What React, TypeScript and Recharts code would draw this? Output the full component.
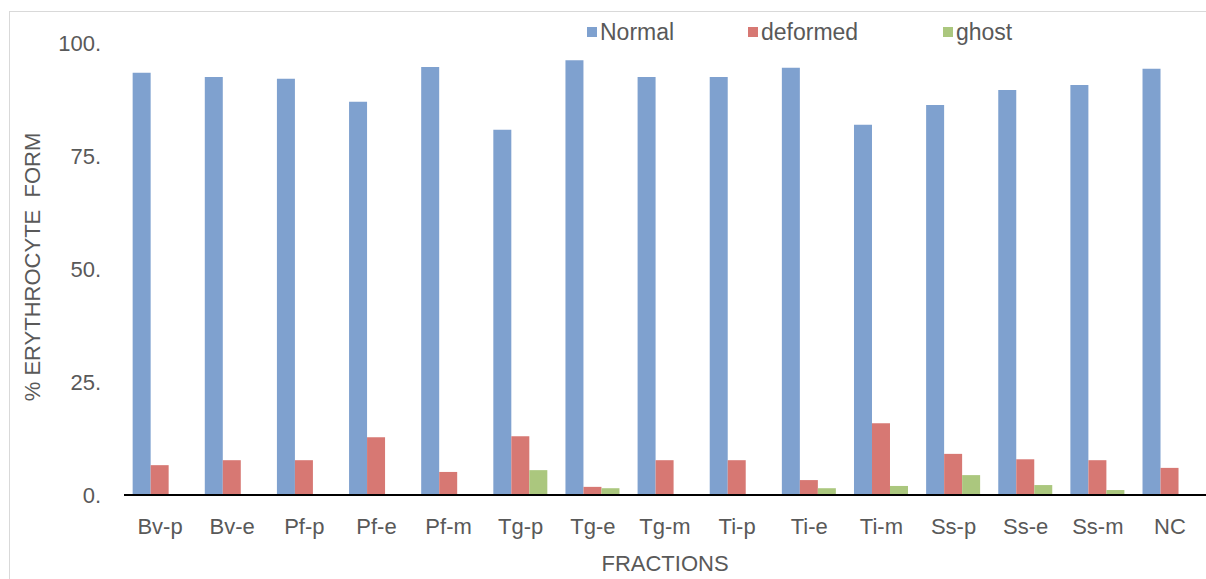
import React from 'react';
import { BarChart, Bar, XAxis, YAxis, Legend, Label } from 'recharts';

const fractions = ['Bv-p', 'Bv-e', 'Pf-p', 'Pf-e', 'Pf-m', 'Tg-p', 'Tg-e', 'Tg-m', 'Ti-p', 'Ti-e', 'Ti-m', 'Ss-p', 'Ss-e', 'Ss-m', 'NC'];
const normal = [93.4, 92.5, 92.1, 87.0, 94.7, 80.8, 96.2, 92.5, 92.5, 94.5, 81.9, 86.3, 89.6, 90.7, 94.3];
const deformed = [6.6, 7.7, 7.7, 12.8, 5.1, 13.0, 1.8, 7.7, 7.7, 3.3, 15.9, 9.1, 7.9, 7.7, 6.0];
const ghost = [0, 0, 0, 0, 0, 5.5, 1.5, 0, 0, 1.5, 2.0, 4.4, 2.2, 1.1, 0];
const yTicks = [0, 25, 50, 75, 100];

const data = fractions.map((name, i) => ({
  name,
  Normal: normal[i],
  deformed: deformed[i],
  ghost: ghost[i],
}));

const FONT = '"Liberation Sans", Arial, sans-serif';
const GREY = '#595959';

const legendItems = [
  { label: 'Normal', color: '#7FA1CF', x: 587 },
  { label: 'deformed', color: '#D77873', x: 748 },
  { label: 'ghost', color: '#ABC77E', x: 943 },
];

const TopLegend = () => (
  <div style={{ position: 'relative', height: 0 }}>
    {legendItems.map((it) => (
      <div
        key={it.label}
        style={{
          position: 'absolute',
          left: it.x,
          top: 18,
          display: 'flex',
          alignItems: 'center',
          fontFamily: FONT,
          fontSize: 23,
          lineHeight: '28px',
          color: GREY,
          whiteSpace: 'nowrap',
        }}
      >
        <span style={{ width: 10, height: 10, background: it.color, marginRight: 3 }} />
        {it.label}
      </div>
    ))}
  </div>
);

export default function App() {
  return (
    <div style={{ position: 'absolute', left: 0, top: 0, width: 1206, height: 579, overflow: 'hidden', background: '#fff' }}>
      <div
        style={{
          position: 'absolute',
          left: 9,
          top: 11,
          width: 1206,
          height: 600,
          border: '1px solid #d9d9d9',
        }}
      />
      <BarChart
        width={1206}
        height={579}
        data={data}
        margin={{ top: 43, right: 0, left: 0, bottom: 0 }}
        barCategoryGap="12%"
        barGap={0}
      >
        <XAxis
          dataKey="name"
          height={84}
          interval={0}
          tickLine={false}
          axisLine={{ stroke: '#000', strokeWidth: 2 }}
          tickMargin={17}
          tick={{ fill: GREY, fontSize: 22, fontFamily: FONT }}
        >
          <Label value="FRACTIONS" position="insideBottom" offset={8} fill={GREY} fontSize={22} fontFamily={FONT} />
        </XAxis>
        <YAxis
          width={124}
          domain={[0, 100]}
          ticks={yTicks}
          tickFormatter={(v) => `${v}.`}
          axisLine={false}
          tickLine={false}
          tickMargin={17}
          tick={{ fill: GREY, fontSize: 22, fontFamily: FONT }}
        >
          <Label
            content={() => (
              <text
                x={32}
                y={267}
                transform="rotate(-90, 32, 267)"
                textAnchor="middle"
                dominantBaseline="central"
                fill={GREY}
                fontSize={22}
                fontFamily={FONT}
                style={{ whiteSpace: 'pre' }}
              >
                % ERYTHROCYTE  FORM
              </text>
            )}
          />
        </YAxis>
        <Legend content={() => <TopLegend />} verticalAlign="top" wrapperStyle={{ top: 0, left: 0 }} />
        <Bar dataKey="Normal" fill="#7FA1CF" isAnimationActive={false} />
        <Bar dataKey="deformed" fill="#D77873" isAnimationActive={false} />
        <Bar dataKey="ghost" fill="#ABC77E" isAnimationActive={false} />
      </BarChart>
    </div>
  );
}
